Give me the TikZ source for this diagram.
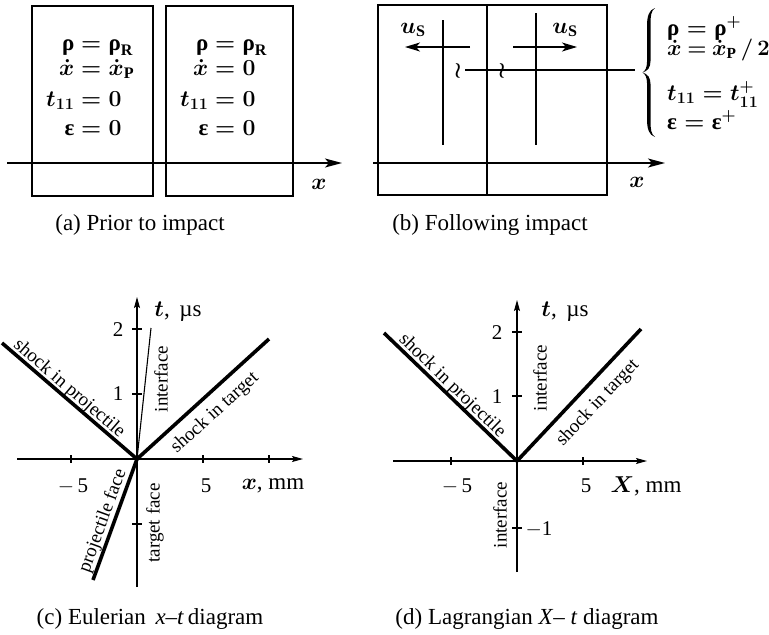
\RequirePackage{fix-cm}
\documentclass[tikz,border=0pt]{standalone}
\usepackage{fontspec}
\setmainfont{Liberation Serif}
\usetikzlibrary{arrows.meta}
\newcommand\rhoup{\mbox{\bfseries ρ}}
\newcommand\epsup{\mbox{\bfseries ε}}
\tikzset{
  panelbox/.style={draw, line width=1.1pt},
  bigaxis/.style={line width=1.2pt, -{Stealth[length=17pt,width=9pt,inset=4pt]}},
  smallaxis/.style={line width=1.1pt, -{Stealth[length=11pt,width=6pt,inset=2pt]}},
  usarrow/.style={line width=1.2pt, -{Stealth[length=15pt,width=9pt,inset=4pt]}},
  thinline/.style={line width=1.1pt},
  shockline/.style={line width=3.6pt},
  tickmark/.style={line width=1.1pt},
  eqtext/.style={inner sep=0pt, font=\fontsize{23}{27}\selectfont\boldmath},
  lhs/.style={eqtext, anchor=base east},
  rhs/.style={eqtext, anchor=base west},
  captiontext/.style={inner sep=0pt, anchor=base, font=\fontsize{23}{27}\selectfont},
  axlabel/.style={inner sep=0pt, font=\fontsize{23}{27}\selectfont\boldmath},
  numlabel/.style={inner sep=0pt, font=\fontsize{21}{25}\selectfont},
  linelabel/.style={inner sep=0pt, font=\fontsize{19}{22}\selectfont},
  breakmark/.style={inner sep=0pt, font=\fontsize{22}{22}\selectfont\boldmath},
}
\begin{document}
\begin{tikzpicture}[x=1pt,y=-1pt]
\useasboundingbox (0,0) rectangle (769,635);

% ---------------- (a) ----------------
\draw[panelbox] (32,6) rectangle (153,196);
\draw[panelbox] (166,6) rectangle (293,196);
\coordinate (aX0) at (7,163);
\coordinate (aX1) at (342,163);
\draw[bigaxis] (aX0) -- (aX1);
\node[eqtext] (axl) at (319,184) {$x$};

\node[lhs] (a1l) at (74.6,50) {$\rhoup$};
\node[rhs] (a1r) at (81,50) {$=\rhoup_{\mathrm R}$};
\node[lhs] (a2l) at (74.6,75) {$\dot x$};
\node[rhs] (a2r) at (81,75) {$=\dot x_{\mathrm P}$};
\node[lhs] (a3l) at (74.6,106) {$t_{11}$};
\node[rhs] (a3r) at (81,106) {$=0$};
\node[lhs] (a4l) at (74.6,135) {$\epsup$};
\node[rhs] (a4r) at (81,135) {$=0$};

\node[lhs] (b1l) at (208.6,50) {$\rhoup$};
\node[rhs] (b1r) at (215,50) {$=\rhoup_{\mathrm R}$};
\node[lhs] (b2l) at (208.6,75) {$\dot x$};
\node[rhs] (b2r) at (215,75) {$=0$};
\node[lhs] (b3l) at (208.6,106) {$t_{11}$};
\node[rhs] (b3r) at (215,106) {$=0$};
\node[lhs] (b4l) at (208.6,135) {$\epsup$};
\node[rhs] (b4r) at (215,135) {$=0$};

\node[captiontext] (capa) at (140,230) {(a) Prior to impact};

% ---------------- (b) ----------------
\draw[panelbox] (378,5) rectangle (487,195);
\draw[panelbox] (487,5) rectangle (607,195);
\coordinate (bX0) at (373,163);
\coordinate (bX1) at (665,163);
\draw[bigaxis] (bX0) -- (bX1);
\node[eqtext] (bxl) at (637,182) {$x$};

\coordinate (bV1t) at (443,20);  \coordinate (bV1b) at (443,145);
\coordinate (bV2t) at (536,13);  \coordinate (bV2b) at (536,145);
\draw[thinline] (bV1t) -- (bV1b);
\draw[thinline] (bV2t) -- (bV2b);
\coordinate (bA1s) at (470,47); \coordinate (bA1e) at (405,47);
\coordinate (bA2s) at (513,47); \coordinate (bA2e) at (577,47);
\draw[usarrow] (bA1s) -- (bA1e);
\draw[usarrow] (bA2s) -- (bA2e);
\node[eqtext, anchor=base] (us1) at (413,33) {$u_{\mathrm S}$};
\node[eqtext, anchor=base] (us2) at (565,33) {$u_{\mathrm S}$};
\coordinate (bH0) at (465,70); \coordinate (bH1) at (635,70);
\draw[thinline] (bH0) -- (bH1);
\node[breakmark] (wr1) at (458,71) {$\wr$};
\node[breakmark] (wr2) at (502,71) {$\wr$};
\fill (655,8) .. controls (649,10) and (647,16) .. (647,26) -- (647,62)
  .. controls (647,68) and (645,71) .. (642.5,72.5)
  .. controls (645,74) and (647,77) .. (647,83) -- (647,119)
  .. controls (647,129) and (649,135) .. (655,137)
  .. controls (651,134) and (650.5,129) .. (650.5,121) -- (650.5,84)
  .. controls (650.5,78) and (648,74) .. (642.5,72.5)
  .. controls (648,71) and (650.5,67) .. (650.5,61) -- (650.5,24)
  .. controls (650.5,16) and (651,11) .. (655,8) -- cycle;

\node[eqtext, anchor=base west] (r1) at (667,35) {$\rhoup = \rhoup^{+}$};
\node[eqtext, anchor=base west, font=\fontsize{22}{26}\selectfont\boldmath] (r2) at (667,55)
  {\thickmuskip=4mu $\dot x = \dot x_{\mathrm P}\,/\,2$};
\node[eqtext, anchor=base west] (r3) at (667,100) {$t_{11} = t_{11}^{+}$};
\node[eqtext, anchor=base west] (r4) at (667,129) {$\epsup = \epsup^{+}$};

\node[captiontext] (capb) at (490,230) {(b) Following impact};

% ---------------- (c) ----------------
\coordinate (cO) at (137,459);
\coordinate (cXl) at (17,459);  \coordinate (cXr) at (303,459);
\coordinate (cTb) at (137,587); \coordinate (cTt) at (137,297);
\draw[smallaxis] (cXl) -- (cXr);
\draw[smallaxis] (cTb) -- (cTt);
\foreach \xx in {71,203,269} \draw[tickmark] (\xx,455) -- (\xx,463);
\foreach \yy in {329,394,524} \draw[tickmark] (132,\yy) -- (142,\yy);
\coordinate (cSP) at (2,343);
\coordinate (cST) at (269,339);
\coordinate (cPF) at (93,580);
\coordinate (cIF) at (151,328);
\draw[thinline] (cO) -- (cIF);
\draw[shockline] (cO) -- (cSP);
\draw[shockline] (cO) -- (cST);
\draw[shockline] (cO) -- (cPF);

\node[numlabel] (c2) at (118,330) {2};
\node[numlabel] (c1) at (118,394) {1};
\node[numlabel] (cm5) at (73,486) {$-$\,5};
\node[numlabel] (c5) at (206,486) {5};
\node[axlabel] (cxl) at (273,486) {$x$, mm};
\node[axlabel] (ctl) at (178,312) {$t$, \,µs};

\node[linelabel, rotate=-40.7] (cl1) at (69,389) {shock in projectile};
\node[linelabel, rotate=90] (cl2) at (161,379) {interface};
\node[linelabel, rotate=42.3] (cl3) at (215,413) {shock in target};
\node[linelabel, rotate=70] (cl4) at (103,521) {projectile face};
\node[linelabel, rotate=90] (cl5) at (155,523) {target face};

\node[captiontext] (capc) at (150,624) {(c) Eulerian \,\textit{x}–\textit{t}\,diagram};

% ---------------- (d) ----------------
\coordinate (dO) at (517,461);
\coordinate (dXl) at (393,461);  \coordinate (dXr) at (647,461);
\coordinate (dTb) at (517,572);  \coordinate (dTt) at (517,300);
\draw[smallaxis] (dXl) -- (dXr);
\draw[smallaxis] (dTb) -- (dTt);
\foreach \xx in {451,583} \draw[tickmark] (\xx,457) -- (\xx,465);
\foreach \yy in {332,396,528} \draw[tickmark] (512,\yy) -- (522,\yy);
\coordinate (dSP) at (384,333);
\coordinate (dST) at (641,329);
\draw[shockline] (dO) -- (dSP);
\draw[shockline] (dO) -- (dST);

\node[numlabel] (d2) at (497,333) {2};
\node[numlabel] (d1) at (497,397) {1};
\node[numlabel] (dm5) at (457,486) {$-$\,5};
\node[numlabel] (d5) at (586,486) {5};
\node[numlabel] (dm1) at (539,529) {$-$1};
\node[axlabel] (dxl) at (646,486) {$X$, mm};
\node[axlabel] (dtl) at (565,312) {$t$, \,µs};

\node[linelabel, rotate=-43.9] (dl1) at (452,386) {shock in projectile};
\node[linelabel, rotate=46.8] (dl2) at (598,403) {shock in target};
\node[linelabel, rotate=90] (dl3) at (540,378) {interface};
\node[linelabel, rotate=90] (dl4) at (500,515) {interface};

\node[captiontext] (capd) at (527,624) {(d) Lagrangian \textit{X}– \textit{t} diagram};
\end{tikzpicture}
\end{document}
